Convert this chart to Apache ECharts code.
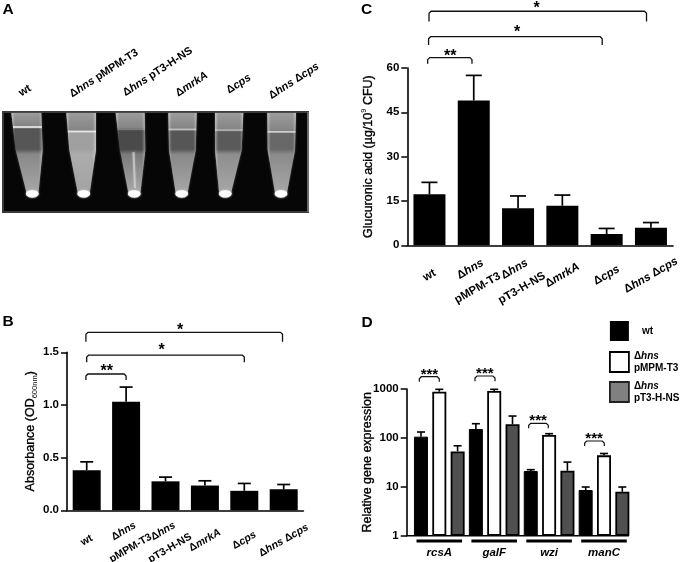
<!DOCTYPE html>
<html><head><meta charset="utf-8">
<style>html,body{margin:0;padding:0;background:#fff}#c{width:680px;height:562px}</style>
<script src="https://cdn.jsdelivr.net/npm/echarts@6/dist/echarts.min.js"></script>
</head><body><div id="c"></div>
<script>
const strains = ['wt','Δhns\npMPM-T3','Δhns\npT3-H-NS','ΔmrkA','Δcps','Δhns Δcps'];
const photoLabels = ['wt','Δhns pMPM-T3','Δhns pT3-H-NS','ΔmrkA','Δcps','Δhns Δcps'];

const absorbance = [0.38,1.03,0.275,0.235,0.185,0.2];
const absorbanceTop = [0.46,1.17,0.315,0.28,0.255,0.245];

const glucuronic = [17.3,49,12.5,13.4,3.8,5.9];
const glucuronicTop = [21.3,57.5,16.7,17,5.7,7.7];

const genes = ['rcsA','galF','wzi','manC'];
const seriesNames = ['wt','Δhns\npMPM-T3','Δhns\npT3-H-NS'];
const exprWt = [106,152,21,8.6];
const exprWtTop = [132,195,22.4,9.9];
const exprVec = [880,910,115,44];
const exprVecTop = [985,985,122,48];
const exprComp = [53,190,21.3,7.9];
const exprCompTop = [69,280,32,9.9];

// [from, to, top, foot, starX, starY, label] in category / value units
const bracketsB = [[-0.02,1,1.294,1.237,0.51,1.35,'**'],[0,4,1.474,1.405,1.9,1.54,'*'],[-0.02,4.97,1.69,1.6,2.37,1.735,'*']];
const bracketsC = [[-0.04,0.96,63.5,61.4,0.47,65,'**'],[-0.02,3.9,70.6,67.8,1.98,73.1,'*'],[-0.01,4.9,79.2,75.7,2.42,81,'*']];
const bracketsD = [[-0.364,0,1783,1410,-0.18,2259,'***'],[0.65,1.015,1845,1437,0.83,2330,'***'],[1.628,1.985,199,157,1.80,251,'***'],[2.648,3.005,86.4,68.3,2.82,109,'***']];

const FONT = '"Liberation Sans", Arial, sans-serif';
const chart = echarts.init(document.getElementById('c'), null, {renderer:'canvas'});

function markup(s, o){
  const lines = s.split('\n');
  const two = o && lines.length>1;
  const body = lines.map((line,k) => ((two && k===0 && o.lead) ? '{ld| }' : '') + line.split(/(Δ\w+)/).filter(p=>p.length).map(p=>{
    if (p[0]==='Δ') return '{b|Δ}{i|'+p.slice(1)+'}';
    return '{b|'+p+'}';
  }).join('') + ((two && k===1 && o.trail) ? '{tr| }' : ''));
  return ((two && o.blank) ? '{t| }\n' : '') + body.join('\n');
}
function richFor(size, lh, o){
  o = o || {};
  return {
    t:{fontSize:1,lineHeight:o.blank||1},
    ld:{width:o.lead||0,fontSize:1,lineHeight:1},
    tr:{width:o.trail||0,fontSize:1,lineHeight:1},
    b:{fontFamily:FONT,fontWeight:'bold',fontSize:size,color:'#000',lineHeight:lh||size+1.5},
    i:{fontFamily:FONT,fontWeight:'bold',fontStyle:'italic',fontSize:size,color:'#000',lineHeight:lh||size+1.5}
  };
}

function errItem(cap, lw, shift){
  return function(params, api){
    const band = api.size([1,0])[0];
    const dx = (shift||0)*band;
    const a = api.coord([api.value(0), api.value(1)]);
    const b = api.coord([api.value(0), api.value(2)]);
    const x = a[0]+dx;
    return {type:'group',children:[
      {type:'line',shape:{x1:x,y1:a[1],x2:x,y2:b[1]},style:{stroke:'#000',lineWidth:lw}},
      {type:'line',shape:{x1:x-cap/2,y1:b[1],x2:x+cap/2,y2:b[1]},style:{stroke:'#000',lineWidth:lw}}
    ]};
  };
}
function bracketItem(rows, lw, fontSize){
  return function(params, api){
    const r = rows[params.dataIndex];
    const band = api.size([1,0])[0];
    const px = v => { const base = Math.max(0, Math.round(v)); return api.coord([base,1])[0] + (v-base)*band; };
    const x1 = px(r[0]), x2 = px(r[1]);
    const yt = api.coord([0,r[2]])[1], yf = api.coord([0,r[3]])[1];
    const c = 2;
    return {type:'group',children:[
      {type:'polyline',shape:{points:[[x1,yf],[x1,yt+c],[x1+c,yt],[x2-c,yt],[x2,yt+c],[x2,yf]]},
       style:{stroke:'#111',lineWidth:lw,fill:null}},
      {type:'text',style:{x:px(r[4]),y:api.coord([0,r[5]])[1]+3,text:r[6],fill:'#000',
        font:'bold '+fontSize+'px '+FONT,textAlign:'center',textVerticalAlign:'middle'}}
    ]};
  };
}
function groupLineItem(params, api){
  const band = api.size([1,0])[0];
  const c = api.coord([api.value(0),1]);
  return {type:'line',shape:{x1:c[0]-band*0.415,y1:c[1]+5.3,x2:c[0]+band*0.415,y2:c[1]+5.3},
    style:{stroke:'#000',lineWidth:2.8}};
}
function zip3(idx, a, b){ return idx.map((v,i)=>[v,a[i],b[i]]); }

function xAxisCats(gridIndex, size, lh, margin, o){
  return {type:'category',gridIndex,data:strains,
    axisLine:{lineStyle:{color:'#000',width:1.6}},
    axisTick:{alignWithLabel:true,length:5,lineStyle:{color:'#000',width:1.5}},
    axisLabel:{interval:0,rotate:30,align:'center',verticalAlign:'middle',margin,hideOverlap:false,
      formatter:v=>markup(v,o),rich:richFor(size,lh,o),fontFamily:FONT}};
}
function yAxisBase(gridIndex){
  return {gridIndex,splitLine:{show:false},
    axisLine:{show:true,lineStyle:{color:'#000',width:1.6}},
    axisTick:{show:true,length:6,lineStyle:{color:'#000',width:1.5}},
    axisLabel:{color:'#000',fontFamily:FONT,fontWeight:'bold',fontSize:11.5,margin:8},
    nameLocation:'middle',nameMoveOverlap:false};
}
const idx6 = strains.map((_,i)=>i);
const idx4 = genes.map((_,i)=>i);

/* ---- panel A: photograph sketch ---- */
const tubes = [
 {tl:11.3,tr:41.3,sl:15.7,sr:42.7,cx:32.3,m:127,band:'#565656',low:'#888888',mb:'#d8d8d8'},
 {tl:66.3,tr:96,sl:69.3,sr:96,cx:83.7,m:131.3,band:'#a0a0a0',low:'#acacac',mb:'#e6e6e6'},
 {tl:115.7,tr:144.7,sl:120,sr:145.3,cx:134.3,m:129,band:'#4a4a4a',low:'#7a7a7a',mb:'#7a7a7a'},
 {tl:168.3,tr:196.7,sl:169,sr:195.7,cx:181.7,m:129.3,band:'#565656',low:'#888888',mb:'#bcbcbc'},
 {tl:215,tr:243.3,sl:215,sr:241.7,cx:225.3,m:130,band:'#5a5a5a',low:'#8e8e8e',mb:'#a8a8a8'},
 {tl:267.3,tr:296,sl:267.7,sr:295,cx:281,m:131.7,band:'#686868',low:'#8a8a8a',mb:'#cccccc'}
];
const photo = [];
photo.push({type:'rect',shape:{x:3,y:112,width:305,height:100},style:{fill:'#060606',stroke:'#3a3a3a',lineWidth:2},z:1});
photo.push({type:'line',shape:{x1:308,y1:112,x2:308,y2:212},style:{stroke:'#9a9a9a',lineWidth:1},z:1});
tubes.forEach((t,i)=>{
  const top=113, bot=197.5, sh=150;
  const pts=[[t.tl,top],[t.tr,top],[t.sr,sh],[t.cx+6.5,190],[t.cx+5.5,195],[t.cx+3,bot],[t.cx-3,bot],[t.cx-5.5,195],[t.cx-6.5,190],[t.sl,sh]];
  const H=bot-top, tm=(t.m-top)/H, ts=(sh-top)/H;
  photo.push({type:'polygon',shape:{points:pts},z:2,style:{
    shadowBlur:2,shadowColor:'rgba(180,180,180,0.5)',
    fill:{type:'linear',x:0,y:0,x2:0,y2:1,colorStops:[
      {offset:0,color:'#9c9c9c'},{offset:tm-0.012,color:'#848484'},
      {offset:tm-0.006,color:t.mb},{offset:tm+0.006,color:t.mb},
      {offset:tm+0.02,color:t.band},{offset:ts-0.01,color:t.band},
      {offset:ts+0.05,color:t.low},{offset:0.9,color:'#a4a4a4'},{offset:1,color:'#c4c4c4'}]}}});
  photo.push({type:'polygon',shape:{points:pts},z:3,style:{
    fill:{type:'linear',x:0,y:0,x2:1,y2:0,colorStops:[
      {offset:0,color:'rgba(255,255,255,0.4)'},{offset:0.12,color:'rgba(255,255,255,0)'},
      {offset:0.88,color:'rgba(255,255,255,0)'},{offset:1,color:'rgba(255,255,255,0.35)'}]}}});
  photo.push({type:'ellipse',shape:{cx:t.cx,cy:193.8,rx:6.3,ry:3.6},z:4,style:{fill:'#fff',shadowBlur:2,shadowColor:'#ddd'}});
});
photo.push({type:'line',shape:{x1:133.5,y1:152,x2:135,y2:188},style:{stroke:'rgba(215,215,215,0.6)',lineWidth:2,shadowBlur:2,shadowColor:'#ccc'},z:4});

const photoLabelPos = [[25,90.7],[104,73.3],[157.7,71.7],[191.7,84.3],[238.7,84],[294,81]];
photoLabels.forEach((s,i)=>{
  photo.push({type:'text',x:photoLabelPos[i][0],y:photoLabelPos[i][1],rotation:33*Math.PI/180,z:5,
    style:{text:markup(s),rich:richFor(11),align:'center',verticalAlign:'middle'}});
});
const letters = [['A',8,10],['B',8,321.7],['C',366.7,10],['D',367,322.7]];
letters.forEach(l=>photo.push({type:'text',x:l[1],y:l[2],z:5,
  style:{text:l[0],font:'bold 15.5px '+FONT,fill:'#000',align:'center',verticalAlign:'middle'}}));
photo.push({type:'line',shape:{x1:406,y1:535.7,x2:629,y2:535.7},style:{stroke:'#000',lineWidth:1.6},z:5});

/* ---- options ---- */
const nameStroke = {textBorderColor:'#000',textBorderWidth:0.35};
const yB = Object.assign(yAxisBase(0),{type:'value',min:0,max:1.5,interval:0.5,
  name:'{n|Absorbance (OD}{s|600nm}{n|)}',nameGap:28,
  nameTextStyle:{rich:{n:Object.assign({fontFamily:FONT,fontSize:12.5,color:'#000'},nameStroke),s:{fontFamily:FONT,fontSize:7.5,color:'#000',verticalAlign:'bottom',lineHeight:16}}}});
yB.axisLabel = Object.assign({},yB.axisLabel,{formatter:v=>v.toFixed(1)});
const yC = Object.assign(yAxisBase(1),{type:'value',min:0,max:60,interval:15,
  name:'{n|Glucuronic acid (µg/10}{s|9}{n| CFU)}',nameGap:31,
  nameTextStyle:{rich:{n:Object.assign({fontFamily:FONT,fontSize:12.5,color:'#000'},nameStroke),s:{fontFamily:FONT,fontSize:7.5,color:'#000',verticalAlign:'top',lineHeight:16}}}});
const yD = Object.assign(yAxisBase(2),{type:'log',logBase:10,min:1,max:1000,offset:5.15,
  name:'Relative gene expression',nameGap:32.5,
  nameTextStyle:Object.assign({fontFamily:FONT,fontSize:12.5,color:'#000'},nameStroke),minorTick:{show:false}});
yD.axisLabel = Object.assign({},yD.axisLabel,{formatter:v=>String(Math.round(v))});

const barD = (name,data,fill,bw)=>({name,type:'bar',xAxisIndex:2,yAxisIndex:2,data,barWidth:14,barGap:'31%',
  itemStyle:{color:fill,borderColor:'#000',borderWidth:bw}});

chart.setOption({
  animation:false,
  backgroundColor:'#fff',
  textStyle:{fontFamily:FONT},
  grid:[
    {left:67,top:352.3,width:236.4,height:158,outerBoundsMode:'none'},
    {left:407.3,top:68,width:265.8,height:177.3,outerBoundsMode:'none'},
    {left:411.85,top:389,width:219.6,height:146.7,outerBoundsMode:'none'}
  ],
  xAxis:[xAxisCats(0,10.6,18,30,{lead:5}),xAxisCats(1,11.5,20,30,{blank:6,trail:6}),
    {type:'category',gridIndex:2,data:genes,axisLine:{show:false},axisTick:{show:false},
     axisLabel:{interval:0,margin:11,fontFamily:FONT,fontWeight:'bold',fontStyle:'italic',fontSize:11.5,color:'#000'}}],
  yAxis:[yB,yC,yD],
  legend:{show:true,left:609,top:319,padding:0,orient:'vertical',itemWidth:19,itemHeight:20,itemGap:8,
    selectedMode:false,textStyle:{fontFamily:FONT,color:'#000'},
    formatter:n=> n==='wt' ? '{p|wt}' : markup(n),
    data:[
      {name:seriesNames[0],icon:'rect',itemStyle:{color:'#000',borderColor:'#000',borderWidth:0},
       textStyle:{rich:{p:{fontFamily:FONT,fontWeight:'bold',fontSize:10,color:'#000',padding:[7,0,7,8],lineHeight:12}}}},
      {name:seriesNames[1],icon:'rect',itemStyle:{color:'#fff',borderColor:'#000',borderWidth:1.8},
       textStyle:{rich:richFor(10,12)}},
      {name:seriesNames[2],icon:'rect',itemStyle:{color:'#808080',borderColor:'#222',borderWidth:1.8},
       textStyle:{rich:richFor(10,12)}}
    ]},
  graphic:photo,
  series:[
    {type:'bar',name:'B',xAxisIndex:0,yAxisIndex:0,data:absorbance,barWidth:28,itemStyle:{color:'#000'}},
    {type:'custom',name:'Berr',xAxisIndex:0,yAxisIndex:0,encode:{x:0,y:[1,2]},data:zip3(idx6,absorbance,absorbanceTop),renderItem:errItem(13,1.7)},
    {type:'custom',name:'Bbr',xAxisIndex:0,yAxisIndex:0,data:bracketsB.map(()=>[0,0.5]),encode:{x:0,y:1},renderItem:bracketItem(bracketsB,1.3,16)},

    {type:'bar',name:'C',xAxisIndex:1,yAxisIndex:1,data:glucuronic,barWidth:32,itemStyle:{color:'#000'}},
    {type:'custom',name:'Cerr',xAxisIndex:1,yAxisIndex:1,encode:{x:0,y:[1,2]},data:zip3(idx6,glucuronic,glucuronicTop),renderItem:errItem(16,1.7)},
    {type:'custom',name:'Cbr',xAxisIndex:1,yAxisIndex:1,data:bracketsC.map(()=>[0,10]),encode:{x:0,y:1},renderItem:bracketItem(bracketsC,1.3,16)},

    barD(seriesNames[0],exprWt,'#000',1),
    barD(seriesNames[1],exprVec,'#fff',1.8),
    barD(seriesNames[2],exprComp,'#505050',1.8),
    {type:'custom',name:'Derr0',xAxisIndex:2,yAxisIndex:2,encode:{x:0,y:[1,2]},data:zip3(idx4,exprWt,exprWtTop),renderItem:errItem(8,1.6,-1/3)},
    {type:'custom',name:'Derr1',xAxisIndex:2,yAxisIndex:2,encode:{x:0,y:[1,2]},data:zip3(idx4,exprVec,exprVecTop),renderItem:errItem(8,1.6,0)},
    {type:'custom',name:'Derr2',xAxisIndex:2,yAxisIndex:2,encode:{x:0,y:[1,2]},data:zip3(idx4,exprComp,exprCompTop),renderItem:errItem(8,1.6,1/3)},
    {type:'custom',name:'Dbr',xAxisIndex:2,yAxisIndex:2,data:bracketsD.map(()=>[0,10]),encode:{x:0,y:1},renderItem:bracketItem(bracketsD,1.2,15)},
    {type:'custom',name:'Dgrp',xAxisIndex:2,yAxisIndex:2,data:idx4.map(i=>[i,1]),encode:{x:0,y:1},renderItem:groupLineItem}
  ]
});
</script></body></html>
